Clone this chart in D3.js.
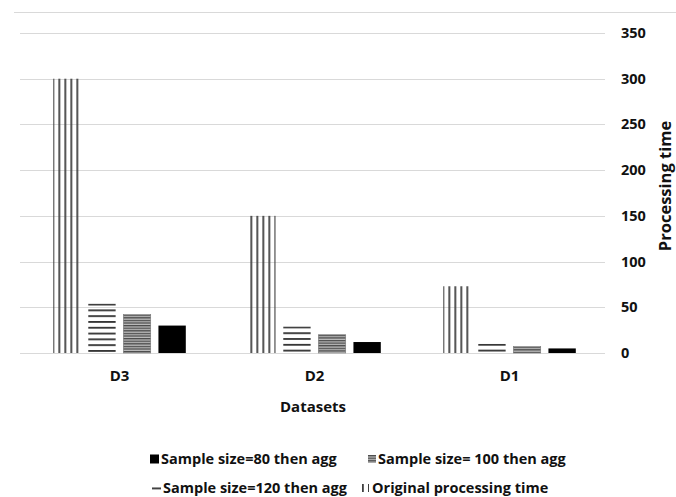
<!DOCTYPE html>
<html>
<head>
<meta charset="utf-8">
<script src="https://cdn.jsdelivr.net/npm/d3@7"></script>
<style>
  body { margin: 0; background: #fff; }
  text { font-family: "Open Sans", Lato, sans-serif; font-weight: bold; fill: #111; }
</style>
</head>
<body>
<div id="chart"></div>
<script>
const datasets = ['D3', 'D2', 'D1'];
const seriesNames = ['Original processing time', 'Sample size=120 then agg', 'Sample size= 100 then agg', 'Sample size=80 then agg'];
const original = [300, 150, 73];
const sample120 = [54, 29, 10];
const sample100 = [42, 20, 7];
const sample80 = [30, 12, 5];
const yTicks = [0, 50, 100, 150, 200, 250, 300, 350];

const width = 676, height = 497;
const values = [original, sample120, sample100, sample80];
const kinds = ['vert', 'hwide', 'hdense', 'solid'];

const svg = d3.select('#chart').append('svg')
  .attr('width', width)
  .attr('height', height);

const defs = svg.append('defs');

const x0 = d3.scaleBand().domain(datasets).range([22, 607]).paddingInner(0.32).paddingOuter(0.16);
const x1 = d3.scaleBand().domain(seriesNames).range([0, x0.bandwidth()]).paddingInner(0.22);
const y = d3.scaleLinear().domain([0, 350]).range([353, 33]);

// top border line
svg.append('line')
  .attr('x1', 14).attr('x2', width).attr('y1', 12.5).attr('y2', 12.5)
  .attr('stroke', '#d9d9d9');

// gridlines
svg.append('g').selectAll('line').data(yTicks).enter().append('line')
  .attr('x1', 20).attr('x2', 605)
  .attr('y1', d => Math.round(y(d)) + 0.5).attr('y2', d => Math.round(y(d)) + 0.5)
  .attr('stroke', '#d9d9d9').attr('stroke-width', 1.2);

// y tick labels on the right
svg.append('g').selectAll('text').data(yTicks).enter().append('text')
  .attr('x', 621).attr('y', d => y(d) + 5)
  .attr('font-size', 14.5)
  .text(d => d);

function makePattern(id, kind, px, py) {
  const p = defs.append('pattern').attr('id', id)
    .attr('patternUnits', 'userSpaceOnUse')
    .attr('x', px).attr('y', py);
  if (kind === 'vert') {
    p.attr('width', 6).attr('height', 6);
    p.append('rect').attr('x', 0).attr('y', 0).attr('width', 1.8).attr('height', 6).attr('fill', '#404040');
  } else if (kind === 'hwide') {
    p.attr('width', 6).attr('height', 5.8);
    p.append('rect').attr('x', 0).attr('y', 0).attr('width', 6).attr('height', 1.8).attr('fill', '#333');
  } else if (kind === 'hdense') {
    p.attr('width', 6).attr('height', 2.6);
    p.append('rect').attr('x', 0).attr('y', 0).attr('width', 6).attr('height', 2.6).attr('fill', '#bdbdbd');
    p.append('rect').attr('x', 0).attr('y', 0).attr('width', 6).attr('height', 1.3).attr('fill', '#4a4a4a');
  }
  return kind === 'solid' ? '#000' : `url(#${id})`;
}

// bars
const groups = svg.append('g').selectAll('g').data(datasets).enter().append('g')
  .attr('transform', d => `translate(${x0(d)},0)`);

groups.each(function (cat, ci) {
  const g = d3.select(this);
  seriesNames.forEach((s, si) => {
    const v = values[si][ci];
    const bx = x0(cat) + x1(s);
    const by = y(v);
    const fill = makePattern(`p-${ci}-${si}`, kinds[si], bx, by);
    const r = g.append('rect')
      .attr('x', x1(s)).attr('y', by)
      .attr('width', x1.bandwidth()).attr('height', y(0) - by)
      .attr('fill', fill);
    if (kinds[si] === 'hdense') r.attr('stroke', '#777').attr('stroke-width', 0.6);
  });
});

// category labels
svg.append('g').selectAll('text').data(datasets).enter().append('text')
  .attr('x', d => x0(d) + x0.bandwidth() / 2).attr('y', 381)
  .attr('text-anchor', 'middle').attr('font-size', 15)
  .text(d => d);

svg.append('text').attr('x', 313).attr('y', 412)
  .attr('text-anchor', 'middle').attr('font-size', 15)
  .text('Datasets');

svg.append('text')
  .attr('transform', 'translate(671,186) rotate(-90)')
  .attr('text-anchor', 'middle').attr('font-size', 16.5)
  .text('Processing time');

// legend
const legendItems = [
  { si: 3, x: 150, y: 459, h: 9, w: 9, off: 0, tx: 161 },
  { si: 2, x: 368, y: 459, h: 8, w: 8, off: 0, tx: 378 },
  { si: 1, x: 152, y: 488, h: 6, w: 9, off: 2.5, tx: 163 },
  { si: 0, x: 361, y: 488, h: 8, w: 8, off: 0, tx: 372 }
];
const lg = svg.append('g');
legendItems.forEach((it, i) => {
  const top = it.y - it.h / 2;
  const fill = makePattern(`lp-${i}`, kinds[it.si], it.x + 1, top + it.off);
  lg.append('rect')
    .attr('x', it.x).attr('y', top).attr('width', it.w).attr('height', it.h)
    .attr('fill', fill);
  lg.append('text')
    .attr('x', it.tx).attr('y', it.y + 5)
    .attr('font-size', 14.5)
    .text(seriesNames[it.si]);
});
</script>
</body>
</html>
